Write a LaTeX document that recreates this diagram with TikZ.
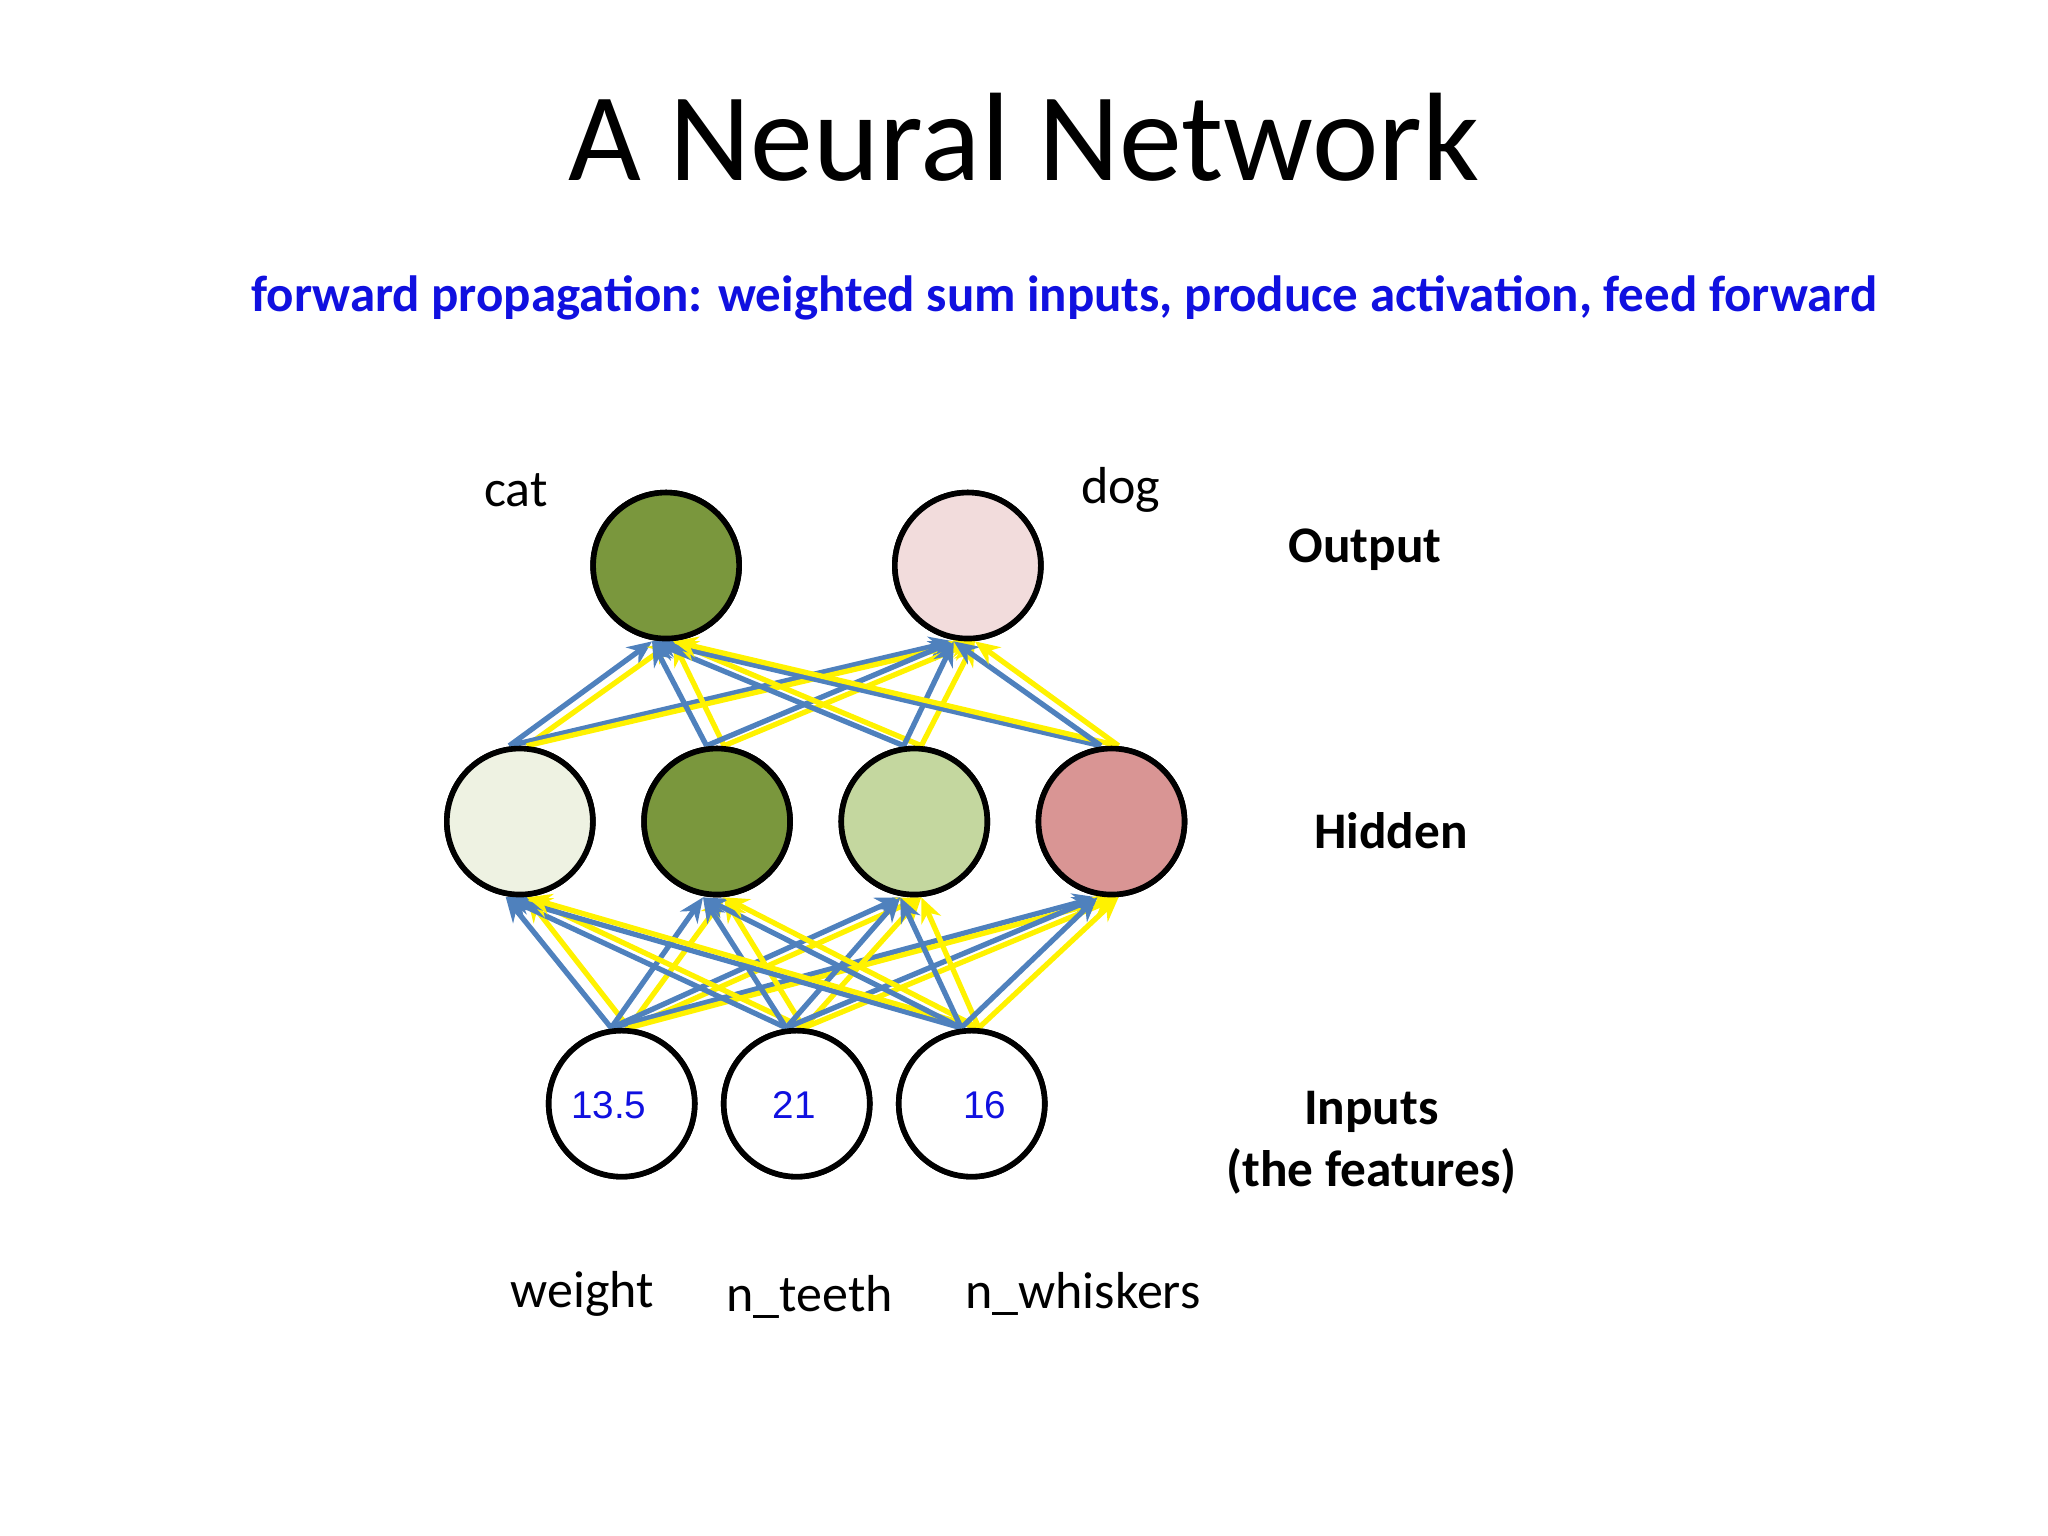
\documentclass[tikz,border=0pt]{standalone}
\usepackage{fontspec}
\setmainfont{Carlito}
\newfontfamily\arialf{Liberation Sans}
\usetikzlibrary{arrows.meta}
\definecolor{dgreen}{HTML}{7A973D}
\definecolor{lgreen}{HTML}{C4D79F}
\definecolor{pgreen}{HTML}{EEF2E2}
\definecolor{dpink}{HTML}{D99594}
\definecolor{lpink}{HTML}{F2DCDC}
\definecolor{eblue}{HTML}{4F81BD}
\definecolor{txtblue}{HTML}{1010E0}
\tikzset{
  neuron/.style={circle, draw=black, line width=1.6pt, minimum size=1.46cm, inner sep=0pt},
  wb/.style={draw=eblue, line width=1.5pt, -{Stealth[length=7pt,width=6pt]}},
  wy/.style={draw=yellow, line width=1.5pt, -{Stealth[length=7pt,width=6pt]}},
  lab/.style={font=\fontsize{14.8}{18}\selectfont},
  side/.style={font=\fontsize{14.6}{17.5}\selectfont\bfseries, align=center}
}
\begin{document}
\begin{tikzpicture}[x=0.01306cm, y=-0.01306cm]
\useasboundingbox (0,0) rectangle (1568,1176);
\node (title) at (784,105) {\fontsize{35.8}{42}\selectfont A Neural Network};
\node[text=txtblue] (sub) at (815,228) {\fontsize{14.5}{17}\selectfont\bfseries forward propagation: weighted sum inputs, produce activation, feed forward};
% coordinates of neurons
\coordinate (pc) at (510,433); \coordinate (pd) at (741,433);
\coordinate (p1) at (398,629); \coordinate (p2) at (549,629);
\coordinate (p3) at (700,629); \coordinate (p4) at (851,629);
\coordinate (pa) at (476,845); \coordinate (pb) at (610,845); \coordinate (pe) at (744,845);
\node[neuron, fill=dgreen] (cat) at (pc) {};
\node[neuron, fill=lpink] (dog) at (pd) {};
\node[neuron, fill=pgreen] (h1) at (p1) {};
\node[neuron, fill=dgreen] (h2) at (p2) {};
\node[neuron, fill=lgreen] (h3) at (p3) {};
\node[neuron, fill=dpink] (h4) at (p4) {};
\node[neuron, fill=white] (i1) at (pa) {};
\node[neuron, fill=white] (i2) at (pb) {};
\node[neuron, fill=white] (i3) at (pe) {};
% connectors
\foreach \s in {i1,i2,i3}{
  \foreach \t in {h1,h2,h3,h4}{
    \draw[wb] ([xshift=-3pt]\s.north) -- ([xshift=-4pt]\t.south);
    \draw[wy] ([xshift=2pt]\s.north) -- ([xshift=2pt]\t.south);
  }}
\foreach \s in {h1,h2,h3,h4}{
  \foreach \t in {cat,dog}{
    \draw[wb] ([xshift=-3pt]\s.north) -- ([xshift=-4pt]\t.south);
    \draw[wy] ([xshift=2pt]\s.north) -- ([xshift=2pt]\t.south);
  }}
% redraw neurons above connector bodies
\foreach \n/\c in {cat/dgreen,dog/lpink,h1/pgreen,h2/dgreen,h3/lgreen,h4/dpink,i1/white,i2/white,i3/white}
  \draw[line width=1.6pt, fill=\c] (\n.center) circle (0.73cm);
\node[text=txtblue, font=\arialf\fontsize{11}{13}\selectfont] (v1) at (466,846) {13.5};
\node[text=txtblue, font=\arialf\fontsize{11}{13}\selectfont] (v2) at (608,846) {21};
\node[text=txtblue, font=\arialf\fontsize{11}{13}\selectfont] (v3) at (754,846) {16};
\node[lab] (lcat) at (395,375) {cat};
\node[lab] (ldog) at (858,375) {dog};
\node[side] (lout) at (1045,421) {Output};
\node[side] (lhid) at (1065,636) {Hidden};
\node[side] (lin) at (1050,875) {Inputs\\(the features)};
\node[lab] (lw) at (446,991) {weight};
\node[lab] (lt) at (620,993) {n\_teeth};
\node[lab] (lwh) at (829,991) {n\_whiskers};
\end{tikzpicture}
\end{document}
